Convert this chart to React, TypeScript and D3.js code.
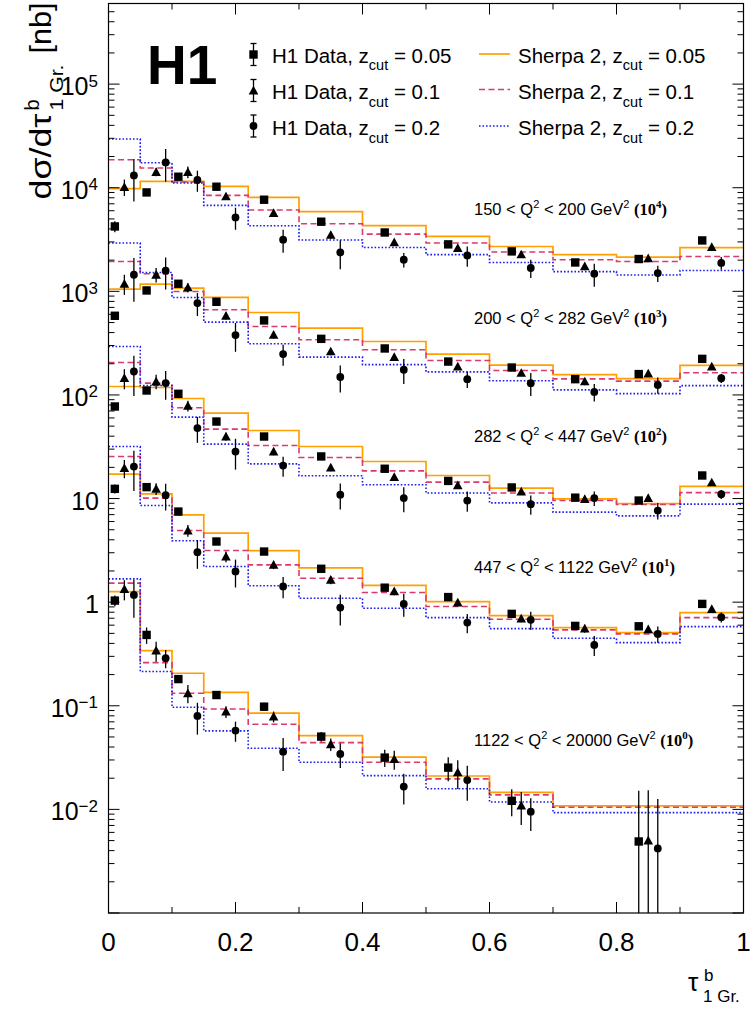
import React from "react";
import * as d3 from "d3";

// ---------------- DATA ----------------
const tauBins = [0, 0.05, 0.1, 0.15, 0.22, 0.3, 0.4, 0.5, 0.6, 0.7, 0.8, 0.9, 1.0];
const tauBinsHighQ2 = [0, 0.05, 0.1, 0.15, 0.22, 0.3, 0.4, 0.5, 0.6, 0.7, 1.0];

const q2Low = ["150", "200", "282", "447", "1122"];
const q2High = ["200", "282", "447", "1122", "20000"];
const scaleExponents = [4, 3, 2, 1, 0];

const xTickLabels = ["0", "0.2", "0.4", "0.6", "0.8", "1"];
const yTickExponents = [-2, -1, 0, 1, 2, 3, 4, 5];

// Sherpa 2 predictions (nb, before multiplication with 10^n)
const sherpaZ005 = [
  [0.98, 1.15, 1.15, 1.03, 0.806, 0.587, 0.43, 0.339, 0.271, 0.226, 0.214, 0.264],
  [1.052, 1.176, 1.076, 0.873, 0.625, 0.442, 0.328, 0.248, 0.194, 0.157, 0.144, 0.193],
  [1.207, 1.18, 0.924, 0.668, 0.454, 0.318, 0.228, 0.167, 0.126, 0.0994, 0.0895, 0.131],
  [1.721, 1.111, 0.696, 0.464, 0.315, 0.214, 0.145, 0.101, 0.0742, 0.0568, 0.0509, 0.0793],
  [1.266, 0.341, 0.206, 0.135, 0.0848, 0.0515, 0.0319, 0.021, 0.0146, 0.0108],
];
const sherpaZ01 = [
  [1.86, 1.55, 1.135, 0.843, 0.609, 0.449, 0.357, 0.293, 0.24, 0.202, 0.194, 0.217],
  [1.943, 1.478, 0.998, 0.664, 0.458, 0.341, 0.273, 0.215, 0.172, 0.143, 0.136, 0.164],
  [2.058, 1.302, 0.752, 0.468, 0.325, 0.249, 0.185, 0.144, 0.113, 0.0957, 0.0876, 0.114],
  [2.546, 1.009, 0.491, 0.315, 0.229, 0.17, 0.124, 0.0907, 0.0685, 0.054, 0.0494, 0.071],
  [1.526, 0.261, 0.132, 0.0932, 0.0664, 0.0441, 0.0285, 0.0197, 0.0138, 0.0105],
];
const sherpaZ02 = [
  [2.95, 1.74, 1.11, 0.675, 0.43, 0.313, 0.265, 0.226, 0.19, 0.155, 0.144, 0.159],
  [2.925, 1.522, 0.873, 0.505, 0.312, 0.232, 0.196, 0.167, 0.137, 0.112, 0.103, 0.123],
  [2.937, 1.234, 0.611, 0.335, 0.216, 0.166, 0.136, 0.113, 0.0909, 0.0739, 0.0681, 0.0883],
  [3.178, 0.856, 0.391, 0.221, 0.144, 0.109, 0.0875, 0.071, 0.0556, 0.0449, 0.0407, 0.0581],
  [1.678, 0.214, 0.0968, 0.0572, 0.0389, 0.0285, 0.0212, 0.0158, 0.0118, 0.0093],
];

// H1 data (nb, before multiplication with 10^n)
const dataZ005 = [
  [0.423, 0.901, 1.277, 1.023, 0.766, 0.47, 0.37, 0.284, 0.243, 0.19, 0.205, 0.31],
  [0.581, 1.02, 1.184, 0.793, 0.524, 0.348, 0.281, 0.21, 0.184, 0.142, 0.159, 0.223],
  [0.774, 1.104, 1.026, 0.554, 0.397, 0.255, 0.194, 0.148, 0.128, 0.102, 0.0957, 0.167],
  [1.241, 1.289, 0.749, 0.385, 0.308, 0.21, 0.138, 0.112, 0.0771, 0.059, 0.0585, 0.0962],
  [1.036, 0.483, 0.181, 0.127, 0.098, 0.0504, 0.0316, 0.0253, 0.0121, 0.0049],
];
const dataZ01 = [
  [1.016, 1.418, 1.418, 0.824, 0.57, 0.35, 0.297, 0.262, 0.227, 0.174, 0.208, 0.268],
  [1.184, 1.446, 1.09, 0.581, 0.381, 0.263, 0.232, 0.188, 0.163, 0.135, 0.161, 0.188],
  [1.454, 1.349, 0.786, 0.397, 0.284, 0.199, 0.161, 0.134, 0.117, 0.0987, 0.101, 0.143],
  [1.966, 1.241, 0.491, 0.276, 0.229, 0.164, 0.127, 0.0991, 0.0694, 0.0556, 0.0548, 0.0856],
  [1.335, 0.341, 0.132, 0.0878, 0.0786, 0.0425, 0.0305, 0.0228, 0.0109, 0.005],
];
const dataZ02 = [
  [1.315, 1.756, 1.187, 0.517, 0.315, 0.237, 0.202, 0.222, 0.168, 0.148, 0.15, 0.188],
  [1.446, 1.58, 0.77, 0.378, 0.248, 0.149, 0.175, 0.142, 0.13, 0.107, 0.125, 0.145],
  [1.684, 1.302, 0.479, 0.284, 0.208, 0.109, 0.101, 0.0957, 0.0883, 0.101, 0.0766, 0.11],
  [2.038, 1.079, 0.304, 0.198, 0.142, 0.0887, 0.0962, 0.0635, 0.0675, 0.0387, 0.0494, 0.0716],
  [1.176, 0.288, 0.0798, 0.0576, 0.0361, 0.0343, 0.0166, 0.0192, 0.0095, 0.0042],
];

// relative total uncertainties
const errZ005 = [
  [0.12, 0.06, 0.05, 0.05, 0.05, 0.05, 0.05, 0.05, 0.05, 0.05, 0.05, 0.05],
  [0.08, 0.06, 0.05, 0.05, 0.05, 0.05, 0.05, 0.05, 0.05, 0.05, 0.05, 0.05],
  [0.08, 0.06, 0.05, 0.05, 0.05, 0.05, 0.05, 0.05, 0.05, 0.05, 0.05, 0.05],
  [0.1, 0.08, 0.08, 0.07, 0.06, 0.06, 0.06, 0.06, 0.06, 0.06, 0.06, 0.05],
  [0.12, 0.18, 0.08, 0.08, 0.09, 0.11, 0.19, 0.26, 0.29, 2.09],
];
const errZ01 = [
  [0.18, 0.09, 0.13, 0.07, 0.07, 0.08, 0.06, 0.07, 0.07, 0.08, 0.07, 0.05],
  [0.22, 0.16, 0.1, 0.08, 0.08, 0.08, 0.07, 0.07, 0.07, 0.08, 0.07, 0.05],
  [0.22, 0.16, 0.12, 0.09, 0.08, 0.08, 0.07, 0.07, 0.07, 0.08, 0.07, 0.05],
  [0.2, 0.13, 0.13, 0.12, 0.09, 0.09, 0.08, 0.08, 0.08, 0.09, 0.08, 0.06],
  [0.22, 0.22, 0.2, 0.13, 0.12, 0.14, 0.21, 0.31, 0.35, 2.06],
];
const errZ02 = [
  [0.44, 0.35, 0.23, 0.24, 0.25, 0.31, 0.16, 0.22, 0.2, 0.25, 0.18, 0.14],
  [0.45, 0.34, 0.25, 0.31, 0.23, 0.29, 0.27, 0.18, 0.25, 0.19, 0.18, 0.1],
  [0.42, 0.31, 0.28, 0.33, 0.22, 0.28, 0.27, 0.22, 0.21, 0.16, 0.18, 0.1],
  [0.42, 0.29, 0.31, 0.3, 0.23, 0.33, 0.25, 0.21, 0.2, 0.22, 0.18, 0.11],
  [0.4, 0.2, 0.34, 0.22, 0.35, 0.27, 0.33, 0.37, 0.35, 2.0],
];

const zcutLabels = ["0.05", "0.1", "0.2"];

// ---------------- STYLE ----------------
const FONT = "'Liberation Sans', Arial, Helvetica, sans-serif";
const SERIF = "'Liberation Serif', 'Times New Roman', serif";
const ORANGE = "#ffa000";
const PINK = "#dc3a6c";
const BLUE = "#1c1cf0";

function Marker({ kind, cx, cy }: { kind: number; cx: number; cy: number }) {
  if (kind === 0) return <rect x={cx - 4.2} y={cy - 4.2} width={8.4} height={8.4} fill="#000" />;
  if (kind === 1)
    return <path d={`M${cx},${cy - 4.8} L${cx + 4.8},${cy + 3.9} L${cx - 4.8},${cy + 3.9} Z`} fill="#000" />;
  return <circle cx={cx} cy={cy} r={3.9} fill="#000" />;
}

export default function App() {
  const W = 750;
  const H = 1009;
  const x0 = 108.5, x1 = 743.5, yTop = 3.5, yBot = 913;
  const x = d3.scaleLinear().domain([0, 1]).range([x0, x1]);
  const y = d3.scaleLog().domain([1e-3, 6e5]).range([yBot, yTop]);

  const stepPath = (edges: number[], vals: number[], k: number) => {
    const pts: [number, number][] = vals.map((v, i) => [edges[i], v * k]);
    pts.push([edges[edges.length - 1], vals[vals.length - 1] * k]);
    return d3
      .line<[number, number]>()
      .x((d) => x(d[0]))
      .y((d) => y(d[1]))
      .curve(d3.curveStepAfter)(pts) as string;
  };

  const sherpaSets = [
    { vals: sherpaZ005, color: ORANGE, dash: undefined, w: 1.7 },
    { vals: sherpaZ01, color: PINK, dash: "6 3.5", w: 1.6 },
    { vals: sherpaZ02, color: BLUE, dash: "1.6 1.9", w: 1.6 },
  ];
  const dataSets = [
    { vals: dataZ005, errs: errZ005, off: -0.015 },
    { vals: dataZ01, errs: errZ01, off: 0 },
    { vals: dataZ02, errs: errZ02, off: 0.015 },
  ];

  // ticks
  const xMajor = d3.range(0, 1.0001, 0.2);
  const xMinor = d3.range(0.1, 1, 0.2);
  const yMajor: number[] = d3.range(-3, 6).map((e) => Math.pow(10, e));
  const yMinor: number[] = [];
  for (let e = -3; e <= 5; e++) for (let k = 2; k <= 9; k++) {
    const v = k * Math.pow(10, e);
    if (v < 6e5) yMinor.push(v);
  }

  const tickEls: JSX.Element[] = [];
  xMajor.forEach((t, i) => {
    tickEls.push(<line key={`xM${i}`} x1={x(t)} x2={x(t)} y1={yBot} y2={yBot - 11} />);
    tickEls.push(<line key={`xMt${i}`} x1={x(t)} x2={x(t)} y1={yTop} y2={yTop + 11} />);
  });
  xMinor.forEach((t, i) => {
    tickEls.push(<line key={`xm${i}`} x1={x(t)} x2={x(t)} y1={yBot} y2={yBot - 6} />);
    tickEls.push(<line key={`xmt${i}`} x1={x(t)} x2={x(t)} y1={yTop} y2={yTop + 6} />);
  });
  yMajor.forEach((t, i) => {
    tickEls.push(<line key={`yM${i}`} x1={x0} x2={x0 + 11} y1={y(t)} y2={y(t)} />);
    tickEls.push(<line key={`yMr${i}`} x1={x1} x2={x1 - 11} y1={y(t)} y2={y(t)} />);
  });
  yMinor.forEach((t, i) => {
    tickEls.push(<line key={`ym${i}`} x1={x0} x2={x0 + 6} y1={y(t)} y2={y(t)} />);
    tickEls.push(<line key={`ymr${i}`} x1={x1} x2={x1 - 6} y1={y(t)} y2={y(t)} />);
  });

  const regionBaselines = [215, 323.5, 442, 572.5, 746];

  return (
    <svg
      width={W}
      height={H}
      viewBox={`0 0 ${W} ${H}`}
      style={{ position: "absolute", left: 0, top: 0, background: "#fff", display: "block" }}
      fontFamily={FONT}
    >
      <rect x={0} y={0} width={W} height={H} fill="#fff" />

      {/* Sherpa histograms */}
      {sherpaSets.map((s, si) =>
        s.vals.map((vals, p) => (
          <path
            key={`s${si}-${p}`}
            d={stepPath(p === 4 ? tauBinsHighQ2 : tauBins, vals, Math.pow(10, scaleExponents[p]))}
            fill="none"
            stroke={s.color}
            strokeWidth={s.w}
            strokeDasharray={s.dash}
          />
        ))
      )}

      {/* data */}
      {dataSets.map((ds, di) =>
        ds.vals.map((vals, p) => {
          const edges = p === 4 ? tauBinsHighQ2 : tauBins;
          const k = Math.pow(10, scaleExponents[p]);
          return vals.map((v, i) => {
            const cx = x((edges[i] + edges[i + 1]) / 2 + ds.off);
            const r = ds.errs[p][i];
            const val = v * k;
            const hi = val * (1 + r);
            const lo = val * (1 - r);
            const yHi = y(hi);
            const yLo = lo > 1e-3 ? y(lo) : yBot;
            return (
              <g key={`d${di}-${p}-${i}`}>
                <line x1={cx} x2={cx} y1={yHi} y2={yLo} stroke="#000" strokeWidth={1.3} />
                <Marker kind={di} cx={cx} cy={y(val)} />
              </g>
            );
          });
        })
      )}

      {/* frame and ticks */}
      <g stroke="#000" strokeWidth={1}>{tickEls}</g>
      <rect x={x0} y={yTop} width={x1 - x0} height={yBot - yTop} fill="none" stroke="#000" strokeWidth={1.2} />

      {/* x tick labels */}
      {xMajor.map((t, i) => (
        <text key={`xl${i}`} x={x(t)} y={951} fontSize={26} textAnchor="middle" fill="#000">
          {xTickLabels[i]}
        </text>
      ))}

      {/* y tick labels */}
      {yTickExponents.map((e) => {
        const ty = y(Math.pow(10, e));
        if (e === 0)
          return (
            <text key={`yl${e}`} x={99} y={ty + 11} fontSize={25} textAnchor="end">1</text>
          );
        if (e === 1)
          return (
            <text key={`yl${e}`} x={99} y={ty + 11} fontSize={25} textAnchor="end">10</text>
          );
        return (
          <text key={`yl${e}`} x={98} y={ty + 11} fontSize={25} textAnchor="end">
            10
            <tspan fontSize={17} dy={-8.5}>{String(e).replace("-", "\u2212")}</tspan>
          </text>
        );
      })}

      {/* y axis title (rotated) */}
      <g transform="translate(51,199.5) rotate(-90)">
        <text x={0} y={0} fontSize={30} textLength={86} lengthAdjust="spacingAndGlyphs">dσ/dτ</text>
        <text x={89} y={-12} fontSize={20}>b</text>
        <text x={89} y={12} fontSize={19} textLength={46} lengthAdjust="spacingAndGlyphs">1 Gr.</text>
        <text x={146} y={0} fontSize={30} textLength={51} lengthAdjust="spacingAndGlyphs">[nb]</text>
      </g>

      {/* x axis title */}
      <text x={688} y={991} fontSize={26}>τ</text>
      <text x={704} y={981} fontSize={17}>b</text>
      <text x={703} y={1002} fontSize={17}>1 Gr.</text>

      {/* H1 logo */}
      <text x={147} y={83.5} fontSize={55} fontWeight="bold">H1</text>

      {/* legend: data */}
      {zcutLabels.map((z, i) => {
        const cy = [54.5, 90.5, 126][i];
        const base = [62.5, 99, 135][i];
        const mx = 253.5;
        return (
          <g key={`lg${i}`}>
            <line x1={mx} x2={mx} y1={cy - 11} y2={cy + 11} stroke="#000" strokeWidth={1.3} />
            <line x1={mx - 3} x2={mx + 3} y1={cy - 11} y2={cy - 11} stroke="#000" strokeWidth={1.3} />
            <line x1={mx - 3} x2={mx + 3} y1={cy + 11} y2={cy + 11} stroke="#000" strokeWidth={1.3} />
            <Marker kind={i} cx={mx} cy={cy} />
            <text x={272} y={base} fontSize={20.5}>
              H1 Data, z
              <tspan fontSize={14.5} dy={7.5}>cut</tspan>
              <tspan dy={-7.5}>{` = ${z}`}</tspan>
            </text>
          </g>
        );
      })}

      {/* legend: Sherpa */}
      {sherpaSets.map((s, i) => {
        const cy = [54, 89.5, 126][i];
        const base = [62.5, 99, 135][i];
        return (
          <g key={`ls${i}`}>
            <line x1={479} x2={510} y1={cy} y2={cy} stroke={s.color} strokeWidth={s.w} strokeDasharray={s.dash} />
            <text x={518} y={base} fontSize={20.5}>
              Sherpa 2, z
              <tspan fontSize={14.5} dy={7.5}>cut</tspan>
              <tspan dy={-7.5}>{` = ${zcutLabels[i]}`}</tspan>
            </text>
          </g>
        );
      })}

      {/* Q2 region labels */}
      {q2Low.map((lo, p) => (
        <text key={`rl${p}`} x={474} y={regionBaselines[p]} fontSize={16.5}>
          {`${lo} < Q`}
          <tspan fontSize={11} dy={-7}>2</tspan>
          <tspan dy={7}>{` < ${q2High[p]} GeV`}</tspan>
          <tspan fontSize={11} dy={-7}>2</tspan>
          <tspan dy={7}>{" "}</tspan>
          <tspan fontFamily={SERIF} fontWeight="bold">(10</tspan>
          <tspan fontFamily={SERIF} fontWeight="bold" fontSize={11} dy={-7}>{String(scaleExponents[p])}</tspan>
          <tspan fontFamily={SERIF} fontWeight="bold" dy={7}>)</tspan>
        </text>
      ))}
    </svg>
  );
}
